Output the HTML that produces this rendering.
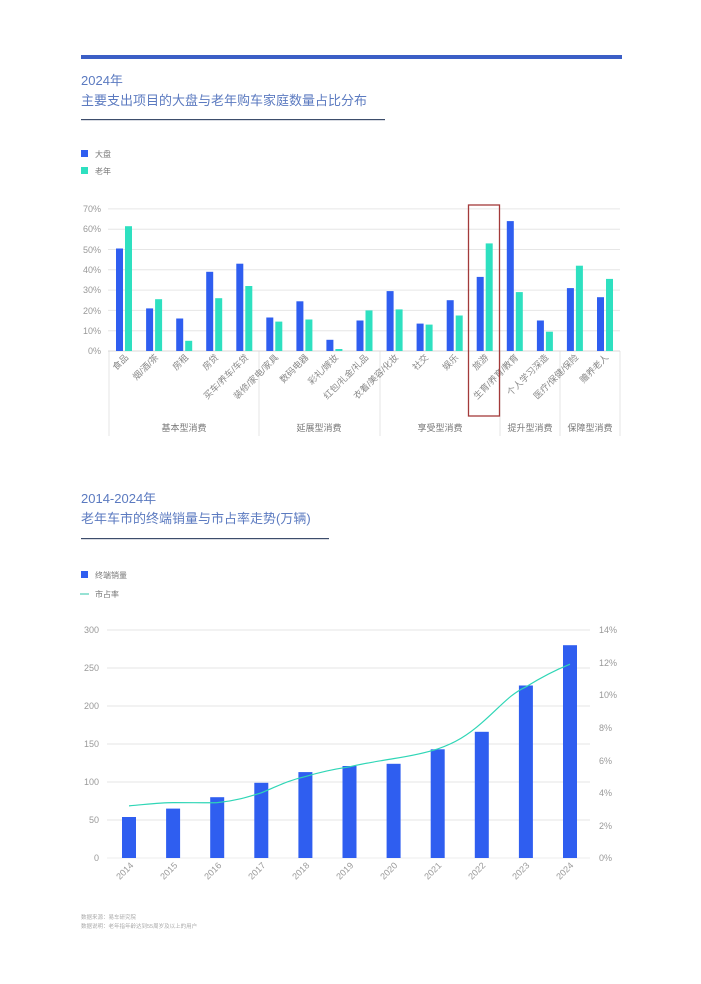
<!DOCTYPE html>
<html><head><meta charset="utf-8"><style>
html,body{margin:0;padding:0;background:#fff;}
svg{display:block;font-family:"Liberation Sans","Noto Sans CJK SC",sans-serif;}
</style></head><body>
<svg width="701" height="984" viewBox="0 0 701 984" xmlns="http://www.w3.org/2000/svg">
<rect x="81" y="55" width="541" height="4" fill="#3b5fc6"/>
<text x="81" y="85" font-size="13" fill="#5b7ac0">2024年</text>
<text x="81" y="105" font-size="13" fill="#5b7ac0">主要支出项目的大盘与老年购车家庭数量占比分布</text>
<rect x="81" y="119" width="304" height="1.2" fill="#3d4d6b"/>
<rect x="81" y="150" width="7" height="7" fill="#2f5ef0"/>
<text x="95" y="157" font-size="8" fill="#777">大盘</text>
<rect x="81" y="167" width="7" height="7" fill="#2ee0c0"/>
<text x="95" y="174" font-size="8" fill="#777">老年</text>

<g stroke="#e6e6e6" stroke-width="1">
<line x1="108" x2="620" y1="330.7" y2="330.7"/><line x1="108" x2="620" y1="310.4" y2="310.4"/>
<line x1="108" x2="620" y1="290.1" y2="290.1"/><line x1="108" x2="620" y1="269.8" y2="269.8"/>
<line x1="108" x2="620" y1="249.5" y2="249.5"/><line x1="108" x2="620" y1="229.2" y2="229.2"/>
<line x1="108" x2="620" y1="208.9" y2="208.9"/>
<line x1="109" x2="109" y1="351" y2="436"/><line x1="259" x2="259" y1="351" y2="436"/>
<line x1="380" x2="380" y1="351" y2="436"/><line x1="500" x2="500" y1="351" y2="436"/>
<line x1="560" x2="560" y1="351" y2="436"/><line x1="620" x2="620" y1="351" y2="436"/>
</g>
<line x1="108" x2="620" y1="351" y2="351" stroke="#d8d8d8"/>
<g font-size="9" fill="#999" text-anchor="end">
<text x="101" y="354">0%</text><text x="101" y="334">10%</text><text x="101" y="314">20%</text>
<text x="101" y="293">30%</text><text x="101" y="273">40%</text><text x="101" y="253">50%</text>
<text x="101" y="232">60%</text><text x="101" y="212">70%</text>
</g>
<g fill="#2f5ef0">
<rect x="116" y="248.5" width="7" height="102.5"/><rect x="146.1" y="308.4" width="7" height="42.6"/>
<rect x="176.2" y="318.5" width="7" height="32.5"/><rect x="206.2" y="271.8" width="7" height="79.2"/>
<rect x="236.3" y="263.7" width="7" height="87.3"/><rect x="266.3" y="317.5" width="7" height="33.5"/>
<rect x="296.4" y="301.3" width="7" height="49.7"/><rect x="326.4" y="339.8" width="7" height="11.2"/>
<rect x="356.5" y="320.5" width="7" height="30.5"/><rect x="386.6" y="291.1" width="7" height="59.9"/>
<rect x="416.6" y="323.6" width="7" height="27.4"/><rect x="446.7" y="300.2" width="7" height="50.8"/>
<rect x="476.7" y="276.9" width="7" height="74.1"/><rect x="506.8" y="221.1" width="7" height="129.9"/>
<rect x="536.9" y="320.5" width="7" height="30.5"/><rect x="566.9" y="288.1" width="7" height="62.9"/>
<rect x="597" y="297.2" width="7" height="53.8"/>
</g>
<g fill="#2ee0c0">
<rect x="125" y="226.2" width="7" height="124.8"/><rect x="155.1" y="299.2" width="7" height="51.8"/>
<rect x="185.2" y="340.8" width="7" height="10.2"/><rect x="215.2" y="298.2" width="7" height="52.8"/>
<rect x="245.3" y="286" width="7" height="65"/><rect x="275.3" y="321.6" width="7" height="29.4"/>
<rect x="305.4" y="319.5" width="7" height="31.5"/><rect x="335.4" y="349" width="7" height="2"/>
<rect x="365.5" y="310.4" width="7" height="40.6"/><rect x="395.6" y="309.4" width="7" height="41.6"/>
<rect x="425.6" y="324.6" width="7" height="26.4"/><rect x="455.7" y="315.5" width="7" height="35.5"/>
<rect x="485.7" y="243.4" width="7" height="107.6"/><rect x="515.8" y="292.1" width="7" height="58.9"/>
<rect x="545.9" y="331.7" width="7" height="19.3"/><rect x="575.9" y="265.7" width="7" height="85.3"/>
<rect x="606" y="278.9" width="7" height="72.1"/>
</g>
<g font-size="9" fill="#888" text-anchor="end">
<text transform="translate(129,358) rotate(-45)">食品</text>
<text transform="translate(159,358) rotate(-45)">烟/酒/茶</text>
<text transform="translate(189,358) rotate(-45)">房租</text>
<text transform="translate(219,358) rotate(-45)">房贷</text>
<text transform="translate(249,358) rotate(-45)">买车/养车/车贷</text>
<text transform="translate(279,358) rotate(-45)">装修/家电/家具</text>
<text transform="translate(309,358) rotate(-45)">数码电器</text>
<text transform="translate(339,358) rotate(-45)">彩礼/嫁妆</text>
<text transform="translate(369,358) rotate(-45)">红包/礼金/礼品</text>
<text transform="translate(399,358) rotate(-45)">衣着/美容/化妆</text>
<text transform="translate(429,358) rotate(-45)">社交</text>
<text transform="translate(459,358) rotate(-45)">娱乐</text>
<text transform="translate(489,358) rotate(-45)">旅游</text>
<text transform="translate(519,358) rotate(-45)">生育/养育/教育</text>
<text transform="translate(549,358) rotate(-45)">个人学习深造</text>
<text transform="translate(579,358) rotate(-45)">医疗/保健/保险</text>
<text transform="translate(609,358) rotate(-45)">赡养老人</text>
</g>
<g font-size="9" fill="#777" text-anchor="middle">
<text x="184" y="431">基本型消费</text><text x="319" y="431">延展型消费</text>
<text x="440" y="431">享受型消费</text><text x="530" y="431">提升型消费</text>
<text x="590" y="431">保障型消费</text>
</g>
<rect x="468.5" y="205" width="31" height="211" fill="none" stroke="#a33a3a" stroke-width="1.3"/>

<text x="81" y="503" font-size="13" fill="#5b7ac0">2014-2024年</text>
<text x="81" y="523" font-size="13" fill="#5b7ac0">老年车市的终端销量与市占率走势(万辆)</text>
<rect x="81" y="538" width="248" height="1.2" fill="#3d4d6b"/>
<rect x="81" y="571" width="7" height="7" fill="#2f5ef0"/>
<text x="95" y="578" font-size="8" fill="#777">终端销量</text>
<line x1="80" x2="89" y1="594" y2="594" stroke="#2fc6a8" stroke-width="1"/>
<text x="95" y="597" font-size="8" fill="#777">市占率</text>

<g stroke="#e6e6e6" stroke-width="1">
<line x1="107" x2="590" y1="820" y2="820"/><line x1="107" x2="590" y1="782" y2="782"/>
<line x1="107" x2="590" y1="744" y2="744"/><line x1="107" x2="590" y1="706" y2="706"/>
<line x1="107" x2="590" y1="668" y2="668"/><line x1="107" x2="590" y1="630" y2="630"/>
</g>
<line x1="107" x2="590" y1="858" y2="858" stroke="#eee"/>
<g font-size="9" fill="#999" text-anchor="end">
<text x="99" y="861">0</text><text x="99" y="823">50</text><text x="99" y="785">100</text>
<text x="99" y="747">150</text><text x="99" y="709">200</text><text x="99" y="671">250</text><text x="99" y="633">300</text>
</g>
<g font-size="9" fill="#999">
<text x="599" y="861">0%</text><text x="599" y="829">2%</text><text x="599" y="796">4%</text>
<text x="599" y="764">6%</text><text x="599" y="731">8%</text><text x="599" y="698">10%</text>
<text x="599" y="666">12%</text><text x="599" y="633">14%</text>
</g>
<g fill="#2f5ef0">
<rect x="122" y="817" width="14" height="41"/><rect x="166.1" y="808.6" width="14" height="49.4"/>
<rect x="210.2" y="797.2" width="14" height="60.8"/><rect x="254.3" y="782.8" width="14" height="75.2"/>
<rect x="298.4" y="772.1" width="14" height="85.9"/><rect x="342.5" y="766" width="14" height="92"/>
<rect x="386.6" y="763.8" width="14" height="94.2"/><rect x="430.7" y="749.3" width="14" height="108.7"/>
<rect x="474.8" y="731.8" width="14" height="126.2"/><rect x="518.9" y="685.5" width="14" height="172.5"/>
<rect x="563" y="645.2" width="14" height="212.8"/>
</g>
<path d="M129,805.9 C150,804 160,802.6 173.1,802.6 C195,802.6 205,803 217.2,802.6 C235,801 248,797 261.3,792.8 C280,785 290,780 305.4,776.6 C320,772 335,769 349.5,766.8 C365,763 380,761 393.6,758.6 C410,756 425,753 437.7,748.9 C455,743 468,735 481.8,722.8 C500,707 510,694 525.9,686.9 C545,675 558,669 570,664.2" fill="none" stroke="#2fd6b6" stroke-width="1.2"/>
<g font-size="9" fill="#999" text-anchor="end">
<text transform="translate(134,866) rotate(-45)">2014</text>
<text transform="translate(178,866) rotate(-45)">2015</text>
<text transform="translate(222,866) rotate(-45)">2016</text>
<text transform="translate(266,866) rotate(-45)">2017</text>
<text transform="translate(310,866) rotate(-45)">2018</text>
<text transform="translate(354,866) rotate(-45)">2019</text>
<text transform="translate(398,866) rotate(-45)">2020</text>
<text transform="translate(442,866) rotate(-45)">2021</text>
<text transform="translate(486,866) rotate(-45)">2022</text>
<text transform="translate(530,866) rotate(-45)">2023</text>
<text transform="translate(574,866) rotate(-45)">2024</text>
</g>
<text x="81" y="919" font-size="5.5" fill="#aaa">数据来源：易车研究院</text>
<text x="81" y="928" font-size="5.5" fill="#aaa">数据说明：老年指年龄达到55周岁及以上的用户</text>
</svg>
</body></html>
